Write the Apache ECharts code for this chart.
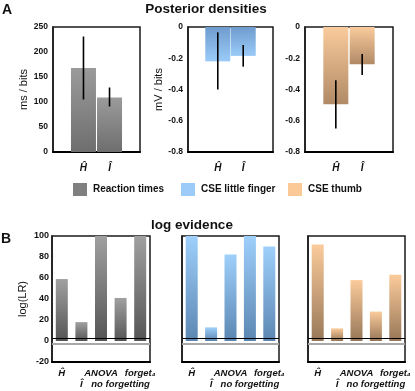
<!DOCTYPE html>
<html>
<head>
<meta charset="utf-8">
<script src="https://cdn.jsdelivr.net/npm/echarts@6/dist/echarts.min.js"></script>
<style>
  html, body { margin: 0; padding: 0; background: #fff; }
  #chart { width: 415px; height: 391px; }
</style>
</head>
<body>
<div id="chart"></div>
<script>
// panel A: posterior densities (mean + interval)
var params = ['Ĥ', 'Î'];
var rtMean = [168, 109];
var rtLow = [105, 91];
var rtHigh = [231, 129];
var lfMean = [-0.22, -0.185];
var lfLow = [-0.40, -0.254];
var lfHigh = [-0.034, -0.115];
var thMean = [-0.495, -0.239];
var thLow = [-0.65, -0.307];
var thHigh = [-0.34, -0.173];

// panel B: log evidence per model
var models = ['Ĥ', 'Î', 'ANOVA', 'no forgetting', 'forget₄'];
var rtEvidence = [59, 18, 100, 41, 100];
var lfEvidence = [100, 13, 82.5, 100, 90];
var thEvidence = [92, 12, 58, 28, 63];
var thresholds = [3, -3];

var legendNames = ['Reaction times', 'CSE little finger', 'CSE thumb'];
var legendColors = ['#808080', '#9ccbfa', '#fbc996'];

var FONT = 'Liberation Sans';

function grad(top, bottom) {
  return new echarts.graphic.LinearGradient(0, 0, 0, 1, [
    { offset: 0, color: top }, { offset: 1, color: bottom }
  ]);
}

function pairs(arr) {
  return arr.map(function (v, i) { return [i, v]; });
}

function errData(low, high) {
  return low.map(function (v, i) { return [i, v, high[i]]; });
}

function errorBars(axisIdx, low, high) {
  return {
    type: 'custom',
    xAxisIndex: axisIdx, yAxisIndex: axisIdx,
    silent: true, z: 5,
    data: errData(low, high),
    renderItem: function (params, api) {
      var a = api.coord([api.value(0), api.value(1)]);
      var b = api.coord([api.value(0), api.value(2)]);
      return {
        type: 'line',
        shape: { x1: a[0], y1: a[1], x2: b[0], y2: b[1] },
        style: { stroke: '#000', lineWidth: 1.6 }
      };
    }
  };
}

var grids = [
  { left: 53, top: 27, width: 87, height: 125 },
  { left: 188, top: 27, width: 85, height: 125 },
  { left: 305, top: 27, width: 88, height: 125 },
  { left: 52, top: 236, width: 98, height: 126 },
  { left: 182, top: 236, width: 97, height: 126 },
  { left: 308, top: 236, width: 97, height: 126 }
].map(function (g) {
  g.show = true;
  g.borderColor = '#1a1a1a';
  g.borderWidth = 1.5;
  g.containLabel = false;
  return g;
});

var frameLine = { show: true, onZero: false, lineStyle: { color: '#000', width: 2 } };

var xA = function (idx) {
  return {
    type: 'value', gridIndex: idx, min: -1.17, max: 2.17,
    splitLine: { show: false }, axisTick: { show: false },
    axisLine: frameLine,
    axisLabel: {
      customValues: [0, 1],
      showMinLabel: true, showMaxLabel: true,
      formatter: function (v) { return params[Math.round(v)]; },
      fontFamily: FONT, fontWeight: 'bold', fontStyle: 'italic',
      fontSize: 10, color: '#111', margin: 11
    }
  };
};

// model labels alternate between two rows, one axis per row
var xB = function (idx, row) {
  return {
    type: 'value', gridIndex: idx, min: -0.5, max: 4.5, position: 'bottom',
    splitLine: { show: false }, axisTick: { show: false },
    axisLine: row ? { show: false } : frameLine,
    axisLabel: {
      customValues: row ? [1, 3] : [0, 2, 4],
      showMinLabel: true, showMaxLabel: true,
      formatter: function (v) { return models[Math.round(v)]; },
      fontFamily: FONT, fontWeight: 'bold', fontStyle: 'italic',
      fontSize: 9.5, color: '#111', margin: row ? 17 : 6
    }
  };
};

var yLabel = {
  fontFamily: FONT, fontWeight: 'bold', fontSize: 8.5, color: '#111', margin: 5
};

function yAxis(idx, min, max, interval, name, gap, labelStyle) {
  return {
    type: 'value', gridIndex: idx, min: min, max: max, interval: interval,
    name: name, nameLocation: 'middle', nameGap: gap,
    nameTextStyle: { fontFamily: FONT, fontSize: 11, color: '#111' },
    splitLine: { show: false }, axisTick: { show: false },
    axisLine: { show: true, onZero: false, lineStyle: { color: '#1a1a1a', width: 1.5 } },
    axisLabel: labelStyle
  };
}

function thresholdLines() {
  return {
    symbol: 'none', silent: true, label: { show: false },
    data: [
      { yAxis: thresholds[0], lineStyle: { color: '#000', width: 1.2, type: 'solid' } },
      { yAxis: thresholds[1], lineStyle: { color: '#a8a8a8', width: 2, type: 'solid' } }
    ]
  };
}

var titleStyle = { fontFamily: FONT, fontSize: 13.5, fontWeight: 'bold', color: '#111' };
var letterStyle = { fontFamily: FONT, fontSize: 14, fontWeight: 'bold', color: '#111' };

var myChart = echarts.init(document.getElementById('chart'));
myChart.setOption({
  animation: false,
  title: [
    { text: 'A', left: -3, top: -2, textStyle: letterStyle },
    { text: 'Posterior densities', left: 201, top: -3, textAlign: 'center', textStyle: titleStyle },
    { text: 'B', left: -4, top: 227, textStyle: letterStyle },
    { text: 'log evidence', left: 187, top: 213, textAlign: 'center', textStyle: titleStyle }
  ],
  legend: legendNames.map(function (n, i) {
    return {
      data: [{ name: n, itemStyle: { color: legendColors[i] } }],
      left: [73, 181, 288][i], top: 183, padding: 0,
      icon: 'rect', itemWidth: 14, itemHeight: 13, itemGap: 5,
      selectedMode: false,
      textStyle: { fontFamily: FONT, fontWeight: 'bold', fontSize: 10, color: '#111', padding: [0, 0, 0, 1] }
    };
  }),
  grid: grids,
  xAxis: [xA(0), xA(1), xA(2), xB(3, 0), xB(4, 0), xB(5, 0), xB(3, 1), xB(4, 1), xB(5, 1)],
  yAxis: [
    yAxis(0, 0, 250, 50, 'ms / bits', 22, yLabel),
    yAxis(1, -0.8, 0, 0.2, 'mV / bits', 21, yLabel),
    yAxis(2, -0.8, 0, 0.2, '', 0, yLabel),
    yAxis(3, -20, 100, 20, 'log(LR)', 24, { fontFamily: FONT, fontWeight: 'bold', fontSize: 9, color: '#111', margin: 3 }),
    yAxis(4, -20, 100, 20, '', 0, { show: false }),
    yAxis(5, -20, 100, 20, '', 0, { show: false })
  ],
  series: [
    { name: 'Reaction times', type: 'bar', xAxisIndex: 0, yAxisIndex: 0, barWidth: 25,
      data: pairs(rtMean), itemStyle: { color: grad('#9b9b9b', '#6e6e6e') } },
    errorBars(0, rtLow, rtHigh),
    { name: 'CSE little finger', type: 'bar', xAxisIndex: 1, yAxisIndex: 1, barWidth: 25,
      data: pairs(lfMean), itemStyle: { color: grad('#6f9cce', '#9acbf8') } },
    errorBars(1, lfLow, lfHigh),
    { name: 'CSE thumb', type: 'bar', xAxisIndex: 2, yAxisIndex: 2, barWidth: 25,
      data: pairs(thMean), itemStyle: { color: grad('#facb9c', '#b08a66') } },
    errorBars(2, thLow, thHigh),
    { name: 'rt evidence', type: 'bar', xAxisIndex: 3, yAxisIndex: 3, barWidth: 12,
      data: pairs(rtEvidence), itemStyle: { color: grad('#a0a0a0', '#555555') },
      markLine: thresholdLines() },
    { name: 'lf evidence', type: 'bar', xAxisIndex: 4, yAxisIndex: 4, barWidth: 12,
      data: pairs(lfEvidence), itemStyle: { color: grad('#9ed0fb', '#5b86b2') },
      markLine: thresholdLines() },
    { name: 'th evidence', type: 'bar', xAxisIndex: 5, yAxisIndex: 5, barWidth: 12,
      data: pairs(thEvidence), itemStyle: { color: grad('#fbcb9b', '#977758') },
      markLine: thresholdLines() }
  ]
});
</script>
</body>
</html>
